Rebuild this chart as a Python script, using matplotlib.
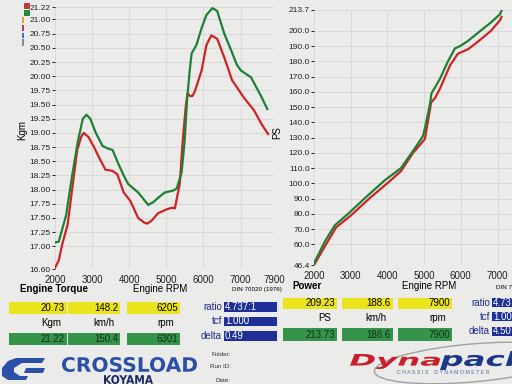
import matplotlib
matplotlib.use('Agg')
import matplotlib.pyplot as plt
from matplotlib.patches import Rectangle, Ellipse, Polygon, PathPatch
from matplotlib.textpath import TextPath
from matplotlib.font_manager import FontProperties
from matplotlib.transforms import Affine2D

plt.rcParams['font.family'] = ['Liberation Sans', 'DejaVu Sans']

# torque curves (rpm, Kgm)
tq_green_rpm = [2000, 2100, 2300, 2450, 2610, 2750, 2850, 2950, 3100, 3280, 3440, 3550,
                3710, 3850, 3970, 4240, 4400, 4510, 4650, 4770, 4960, 5170, 5280, 5410,
                5490, 5560, 5630, 5680, 5810, 5950, 6080, 6240, 6370, 6560, 6750, 6900,
                7010, 7280, 7550, 7720]
tq_green = [17.07, 17.08, 17.55, 18.2, 18.83, 19.25, 19.32, 19.25, 19.0, 18.77, 18.72, 18.7,
            18.45, 18.25, 18.1, 17.95, 17.82, 17.73, 17.78, 17.85, 17.95, 17.98, 18.02, 18.3,
            18.83, 19.6, 20.1, 20.4, 20.55, 20.85, 21.08, 21.2, 21.15, 20.75, 20.45, 20.2,
            20.1, 19.98, 19.65, 19.42]
tq_red_rpm = [2000, 2100, 2200, 2340, 2500, 2600, 2700, 2770, 2900, 3050, 3200, 3360, 3550,
              3680, 3850, 4030, 4240, 4400, 4480, 4600, 4770, 5000, 5150, 5230, 5360, 5440,
              5520, 5570, 5640, 5700, 5760, 5950, 6080, 6210, 6370, 6560, 6770, 7090, 7360,
              7570, 7740]
tq_red = [16.62, 16.75, 17.05, 17.38, 18.2, 18.7, 18.92, 19.0, 18.93, 18.75, 18.55, 18.35, 18.33,
          18.27, 17.95, 17.8, 17.5, 17.42, 17.4, 17.45, 17.58, 17.65, 17.68, 17.67, 18.1, 18.85,
          19.45, 19.7, 19.65, 19.65, 19.72, 20.1, 20.55, 20.72, 20.66, 20.33, 19.93, 19.62, 19.4,
          19.15, 18.98]

# power curves (rpm, PS)
pw_green_rpm = [2000, 2300, 2570, 2930, 3420, 3930, 4370, 4750, 4970, 5020, 5100, 5160, 5200,
                5300, 5430, 5650, 5840, 5980, 6200, 6470, 6820, 7070, 7110]
pw_green = [47.5, 62, 72.5, 80, 91, 102, 110, 123, 131, 136, 145, 152, 159,
            163, 168.5, 180, 188.5, 190, 193.5, 198.8, 205.5, 211, 213.4]
pw_red_rpm = [2000, 2330, 2600, 3010, 3530, 4020, 4370, 4700, 5020, 5100, 5190, 5300, 5430,
              5710, 5920, 6200, 6470, 6820, 7070, 7110]
pw_red = [46.4, 60, 71, 79, 90.5, 100.5, 108, 120, 129, 140, 153, 156, 162,
          177.5, 185, 188, 193, 200, 207, 209.2]

rpm_ticks = [2000, 3000, 4000, 5000, 6000, 7000, 7900]
tq_ticks = [16.60, 17.00, 17.25, 17.50, 17.75, 18.00, 18.25, 18.50, 18.75, 19.00, 19.25,
            19.50, 19.75, 20.00, 20.25, 20.50, 20.75, 21.00, 21.22]
pw_ticks = [46.4, 60, 70, 80, 90, 100, 110, 120, 130, 140, 150, 160, 170, 180, 190, 200, 213.7]

# result table
tq_yellow = ['20.73', '148.2', '6205']
tq_green_vals = ['21.22', '150.4', '6301']
tq_units = ['Kgm', 'km/h', 'rpm']
tq_info = ['4.737:1', '1.000', '0.49']
pw_yellow = ['209.23', '188.6', '7900']
pw_green_vals = ['213.73', '188.6', '7900']
pw_units = ['PS', 'km/h', 'rpm']
pw_info = ['4.737:1', '1.000', '4.50']
info_labels = ['ratio', 'tcf', 'delta']

PAPER = '#ebebea'
GREEN = '#1f7f35'
RED = '#cc2424'
YELLOW = '#ebe31c'
BOXGREEN = '#35934a'
BLUE = '#1f2f98'
LOGOBLUE = '#2c4fa8'

W, H = 512, 384
fig = plt.figure(figsize=(5.12, 3.84), dpi=100)
fig.patch.set_facecolor(PAPER)

# overlay in pixel coordinates for the sheet decorations
bg = fig.add_axes([0, 0, 1, 1], zorder=0)
bg.set_xlim(0, W)
bg.set_ylim(H, 0)
bg.axis('off')


def frac(x0, y0, x1, y1):
    return [x0 / W, 1 - y1 / H, (x1 - x0) / W, (y1 - y0) / H]


def style_axes(ax, yticks, fmt):
    ax.set_facecolor('none')
    for s in ax.spines.values():
        s.set_visible(False)
    ax.set_xlim(2000, 7900)
    ax.set_xticks(rpm_ticks)
    ax.set_yticks(yticks)
    ax.set_yticklabels([fmt % v for v in yticks])
    ax.set_ylim(yticks[0], yticks[-1])
    ax.grid(color='#d6d6d6', lw=0.6)
    ax.tick_params(axis='y', length=2.5, width=0.7, pad=0.5, labelsize=6.0, colors='#222222')
    ax.tick_params(axis='x', length=0, pad=4, labelsize=7, colors='#222222')


ax1 = fig.add_axes(frac(55, 7, 274, 269), zorder=1)
style_axes(ax1, tq_ticks, '%.2f')
ax1.plot(tq_red_rpm, tq_red, color=RED, lw=1.6)
ax1.plot(tq_green_rpm, tq_green, color=GREEN, lw=1.6)
ax1.set_ylabel('Kgm', fontsize=7)
ax1.yaxis.set_label_coords(-0.125, 0.53)

ax2 = fig.add_axes(frac(314, 10, 314 + 5.9 * 36.7, 265), zorder=1)
style_axes(ax2, pw_ticks, '%.1f')
ax2.plot(pw_red_rpm, pw_red, color=RED, lw=1.6)
ax2.plot(pw_green_rpm, pw_green, color=GREEN, lw=1.6)
ax2.set_ylabel('PS', fontsize=7)
ax2.yaxis.set_label_coords(-0.145, 0.52)

# colour legend top left
bg.add_patch(Rectangle((24, 3), 6, 6, color='#c0393a', lw=0))
bg.add_patch(Rectangle((24, 10), 6, 6, color='#208a3c', lw=0))
for y0, y1, c in [(17, 23, '#e3a228'), (25, 31, '#c3326c'), (33, 38, '#3473c0'), (39, 46, '#8a8a8a')]:
    bg.add_patch(Rectangle((22, y0), 2, y1 - y0, color=c, lw=0))

# captions under the charts
bg.text(20, 289, 'Engine Torque', fontsize=7, fontweight='bold', va='center')
bg.text(133, 289, 'Engine RPM', fontsize=7, va='center')
bg.text(232, 289, 'DIN 70020 (1976)', fontsize=4.5, va='center')
bg.text(292, 286, 'Power', fontsize=7, fontweight='bold', va='center')
bg.text(402, 286, 'Engine RPM', fontsize=7, va='center')
bg.text(496, 287, 'DIN 70020 (1976)', fontsize=4.5, va='center', clip_on=True)


def table(xs, ys, yellow, green, units, unit_y):
    for (x0, x1), yv, gv, u in zip(xs, yellow, green, units):
        bg.add_patch(Rectangle((x0, ys[0]), x1 - x0, ys[1] - ys[0], color=YELLOW, lw=0))
        bg.text(x1 - 2, (ys[0] + ys[1]) / 2, yv, fontsize=7, ha='right', va='center')
        bg.add_patch(Rectangle((x0, ys[2]), x1 - x0, ys[3] - ys[2], color=BOXGREEN, lw=0))
        bg.text(x1 - 2, (ys[2] + ys[3]) / 2, gv, fontsize=7, ha='right', va='center', color='#10301a')
        bg.text(x1 - 6, unit_y, u, fontsize=7, ha='right', va='center')


def info(x_lab, x0, x1, rows, vals):
    for (y0, y1), lab, v in zip(rows, info_labels, vals):
        bg.text(x_lab, (y0 + y1) / 2, lab, fontsize=7, ha='right', va='center', color='#1a2a8a')
        bg.add_patch(Rectangle((x0, y0), x1 - x0, y1 - y0, color=BLUE, lw=0))
        bg.text(x0 + 1, (y0 + y1) / 2, v, fontsize=7, ha='left', va='center', color='white',
                clip_on=True)


table([(9, 67), (68, 120), (127, 180)], (302, 314, 333, 345), tq_yellow, tq_green_vals, tq_units, 323)
info(222, 224, 277, [(302, 312), (317, 326), (331, 341)], tq_info)
table([(283, 337), (342, 393), (398, 452)], (298, 309, 328, 341), pw_yellow, pw_green_vals, pw_units, 318)
info(490, 492, 520, [(298, 307), (312, 321), (327, 336)], pw_info)


def logo_text(s, x0, y0, x1, y1, color, style='normal'):
    tp = TextPath((0, 0), s, size=10,
                  prop=FontProperties(family='DejaVu Sans', weight='bold', style=style))
    bb = tp.get_extents()
    tr = Affine2D().translate(-bb.x0, -bb.y0).scale((x1 - x0) / bb.width, -(y1 - y0) / bb.height).translate(x0, y1)
    bg.add_patch(PathPatch(tr.transform_path(tp), color=color, lw=0))


# Crossload logo
bg.add_patch(Polygon([(16, 358), (45, 358), (42, 363), (22, 363), (14, 368), (14, 372), (20, 376),
                      (28, 376), (26, 380), (8, 380), (2, 376), (2, 368), (8, 361)],
                     color=LOGOBLUE, lw=0))
bg.add_patch(Polygon([(26, 368), (45, 368), (43, 373), (24, 373)], color=LOGOBLUE, lw=0))
logo_text('CROSSLOAD', 62, 357, 197, 372, LOGOBLUE)
logo_text('KOYAMA', 104, 375, 153, 384, '#1a2a60')

for y, s in [(354, 'Folder:'), (367, 'Run ID:'), (380, 'Date:')]:
    bg.text(231, y, s, fontsize=4.5, ha='right', va='center', color='#333333')

# Dynapack logo
bg.add_patch(Ellipse((472, 363), 196, 38, angle=-5, fill=False, ec='#a0a0a0', lw=1))
logo_text('Dyna', 350, 354, 440, 369, '#c8202a', style='italic')
logo_text('pack', 440, 351, 528, 370, '#1c3788', style='italic')
bg.text(397, 372, 'C H A S S I S    D Y N A M O M E T E R', fontsize=3.8, color='#5a6a9a',
        va='center')

fig.savefig('out.png', dpi=100, facecolor=PAPER)
